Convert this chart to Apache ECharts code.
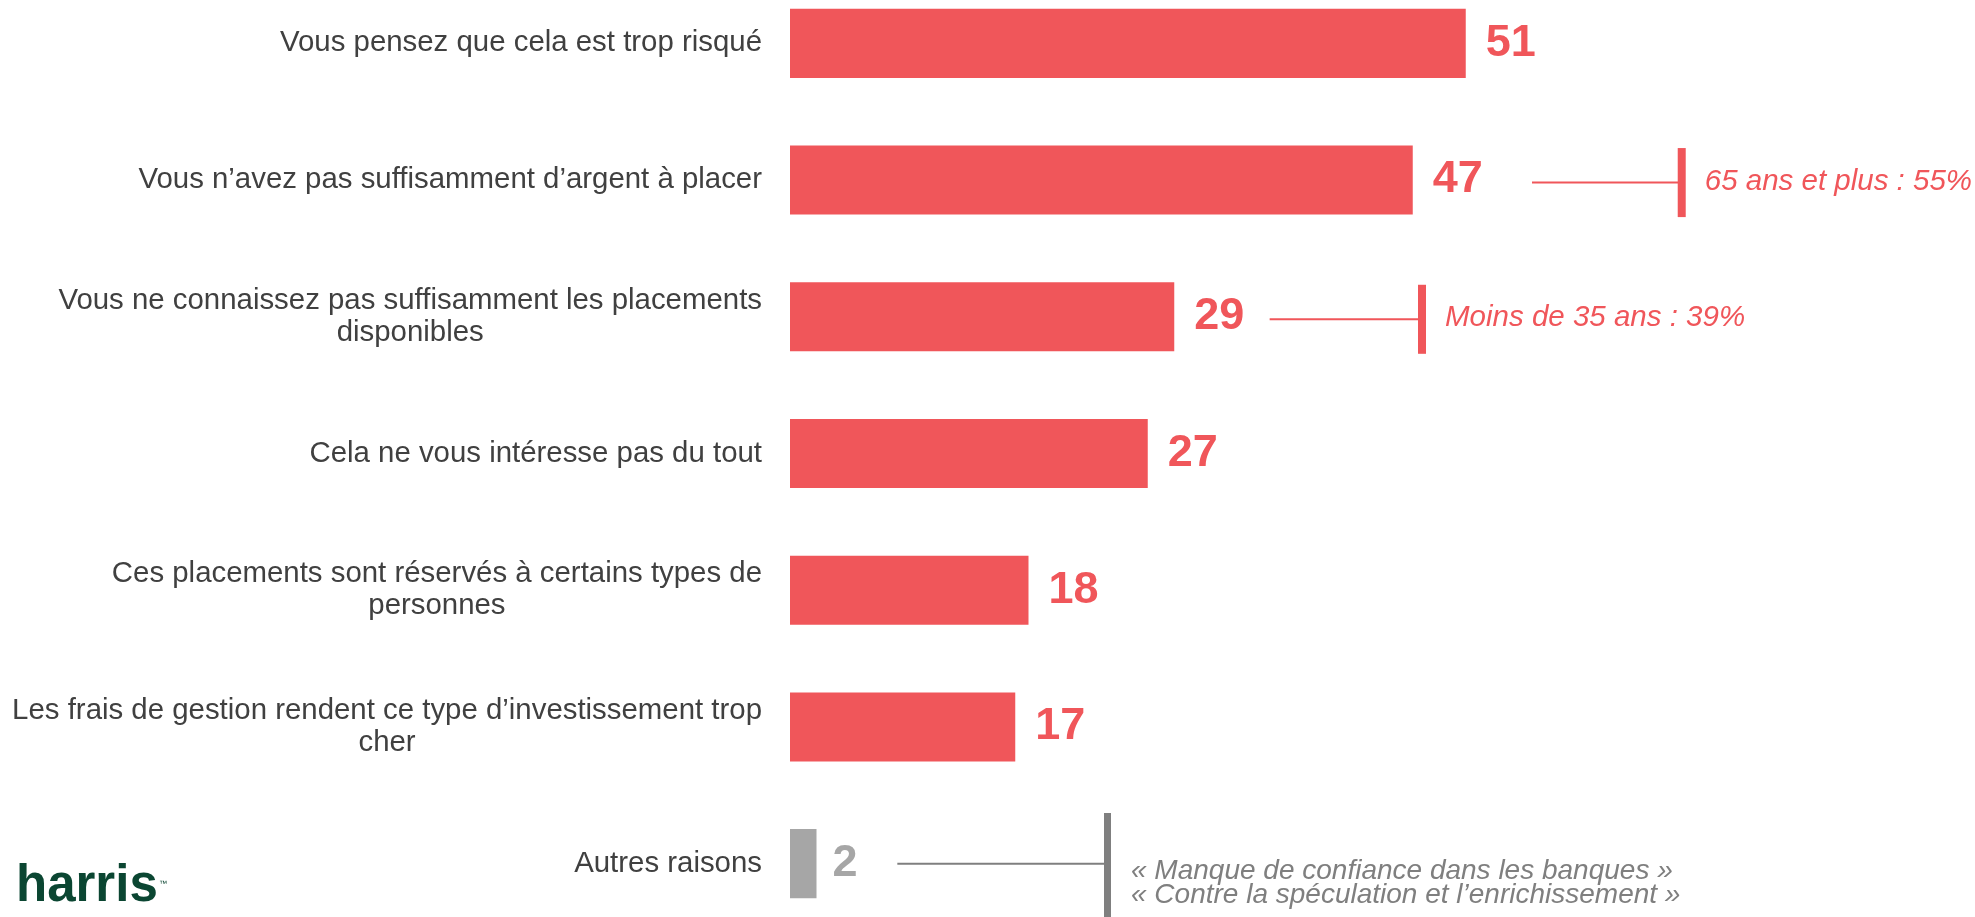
<!DOCTYPE html>
<html><head><meta charset="utf-8">
<script src="https://cdn.jsdelivr.net/npm/echarts@6/dist/echarts.min.js"></script>
<style>html,body{margin:0;padding:0;background:#fff}#c{width:1975px;height:917px}</style>
</head><body><div id="c"></div>
<script>
// ---- data ----
const categories = [
  "Vous pensez que cela est trop risqué",
  "Vous n’avez pas suffisamment d’argent à placer",
  "Vous ne connaissez pas suffisamment les placements\ndisponibles",
  "Cela ne vous intéresse pas du tout",
  "Ces placements sont réservés à certains types de\npersonnes",
  "Les frais de gestion rendent ce type d’investissement trop\ncher",
  "Autres raisons"
];
const values = [51, 47, 29, 27, 18, 17, 2];
const otherCategories = ["Autres raisons"];
const annotationCategories = [
  "Vous n’avez pas suffisamment d’argent à placer",
  "Vous ne connaissez pas suffisamment les placements\ndisponibles",
  "Autres raisons"
];
const annotationTexts = [
  "65 ans et plus : 55%",
  "Moins de 35 ans : 39%",
  "« Manque de confiance dans les banques »\n« Contre la spéculation et l’enrichissement »"
];

// ---- styles / layout ----
const RED = '#F0565A', GRAY_BAR = '#A6A6A6', GRAY_LINE = '#7F7F7F', TEXT = '#404040';
const FONT = '"Liberation Sans", Arial, sans-serif';
const annLayout = [
  {from: 56.0, to: 67.3, color: RED, top: -0.2525, bottom: 0.2525, shift: 2.5, textDy: 2, fontSize: 29.5},
  {from: 36.2, to: 47.7, color: RED, top: -0.2525, bottom: 0.2525, shift: 2.5, textDy: 1, fontSize: 29.5},
  {from: 8.1, to: 24.0, color: GRAY_LINE, top: -0.37, bottom: 0.6, shift: 0, textDy: 20, fontSize: 28}
];

const chart = echarts.init(document.getElementById('c'), null, {renderer: 'canvas'});

const barData = values.map((v, i) => {
  const isOther = otherCategories.includes(categories[i]);
  const col = isOther ? GRAY_BAR : RED;
  return {
    value: v,
    itemStyle: {color: col},
    label: {color: col, distance: isOther ? 16 : 20}
  };
});

const option = {
  backgroundColor: '#fff',
  animation: false,
  grid: {left: 790, right: 125, top: -25, bottom: -15, containLabel: false, outerBoundsMode: 'none'},
  xAxis: {type: 'value', min: 0, max: 80, show: false},
  yAxis: {
    type: 'category',
    data: categories,
    inverse: true,
    axisLine: {show: false},
    axisTick: {show: false},
    splitLine: {show: false},
    axisLabel: {
      margin: 28,
      align: 'right',
      formatter: v => v.split('\n').map(l => '{a|' + l + '}').join('\n'),
      rich: {a: {fontSize: 29.4, fontFamily: FONT, color: TEXT, align: 'center', lineHeight: 32}}
    }
  },
  series: [
    {
      type: 'bar',
      data: barData,
      barWidth: '50.5%',
      label: {show: true, position: 'right', fontSize: 45, fontWeight: 'bold', fontFamily: FONT}
    },
    {
      type: 'custom',
      data: annotationCategories.map(c => [0, categories.indexOf(c)]),
      encode: {x: 0, y: 1},
      silent: true,
      renderItem: (params, api) => {
        const i = params.dataIndex;
        const L = annLayout[i];
        const cat = api.value(1);
        const s = api.coord([L.from, cat]);
        const e = api.coord([L.to, cat]);
        const band = api.size([0, 1])[1];
        const y = s[1] + L.shift;
        const isGray = L.color !== RED;
        return {
          type: 'group',
          children: [
            {type: 'line', shape: {x1: s[0], y1: y, x2: e[0], y2: y}, style: {stroke: L.color, lineWidth: 2}},
            {type: 'rect', shape: {x: e[0] - 4, y: s[1] + L.top * band + L.shift, width: isGray ? 7 : 8, height: (L.bottom - L.top) * band}, style: {fill: L.color}},
            {type: 'text', x: e[0] + 23, y: s[1] + L.textDy,
              style: {text: annotationTexts[i], fill: L.color, fontSize: L.fontSize, fontStyle: 'italic', fontFamily: FONT,
                align: 'left', verticalAlign: 'middle', lineHeight: 24}}
          ]
        };
      }
    }
  ],
  graphic: [
    {type: 'text', left: 16, top: 861, style: {text: 'harris', fill: '#0B4632', fontSize: 51, fontWeight: 'bold', fontFamily: FONT}},
    {type: 'text', left: 159, top: 880, style: {text: '™', fill: '#0B4632', fontSize: 8, fontFamily: FONT}}
  ]
};
chart.setOption(option);
</script></body></html>
